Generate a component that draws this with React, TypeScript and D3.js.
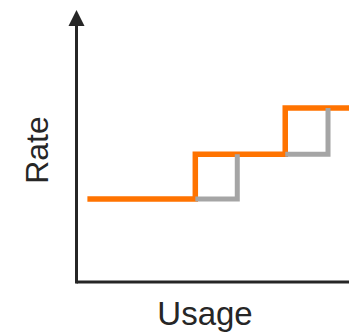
import React from "react";
import * as d3 from "d3";

const usageSteps = [4, 43.6, 76.6, 100];
const tierRates = [30.5, 47, 64];
const lagSteps = [59, 92.3];

export default function App() {
  const W = 349, H = 335;
  const x = d3.scaleLinear().domain([0, 100]).range([76.5, 349]);
  const y = d3.scaleLinear().domain([0, 100]).range([282, 10]);
  const line = d3.line<[number, number]>().x(d => x(d[0])).y(d => y(d[1]));
  const orangePts: [number, number][] = [];
  tierRates.forEach((r, i) => {
    orangePts.push([usageSteps[i], r]);
    orangePts.push([usageSteps[i + 1], r]);
  });
  const stepLine = d3.line<[number, number]>().x(d => x(d[0])).y(d => y(d[1]));
  const greySegs: [number, number][][] = lagSteps.map((lx, i) => [
    [usageSteps[i + 1], tierRates[i]],
    [lx, tierRates[i]],
    [lx, tierRates[i + 1]],
  ]);
  return (
    <svg width={W} height={H} style={{ position: "absolute", left: 0, top: 0 }}>
      <rect width={W} height={H} fill="#fff" />
      <path d={stepLine(orangePts) || ""} fill="none" stroke="#FF7300" strokeWidth={5.5} strokeLinejoin="miter" />
      {greySegs.map((s, i) => (
        <path key={i} d={line(s) || ""} fill="none" stroke="#A5A5A5" strokeWidth={5} strokeLinejoin="miter" />
      ))}
      <line x1={x(0)} y1={y(0)} x2={W} y2={y(0)} stroke="#262626" strokeWidth={3} />
      <line x1={x(0)} y1={y(0) + 1.5} x2={x(0)} y2={25} stroke="#262626" strokeWidth={3} />
      <path d={`M${x(0)},10 L${x(0) - 8},26 L${x(0) + 8},26 Z`} fill="#262626" />
      <text x={205} y={325} textAnchor="middle" fontFamily="Liberation Sans, Arial, sans-serif" fontSize={33} fill="#262626">Usage</text>
      <text transform="translate(48,150) rotate(-90)" textAnchor="middle" fontFamily="Liberation Sans, Arial, sans-serif" fontSize={32} fill="#262626">Rate</text>
    </svg>
  );
}
